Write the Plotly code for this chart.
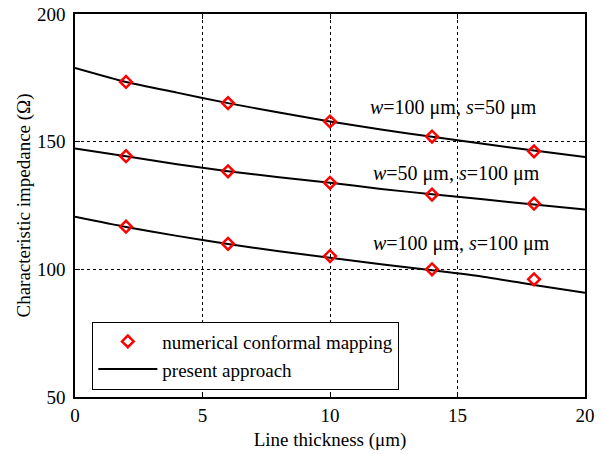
import plotly.graph_objects as go

# Data
line_x = [0, 2, 4, 6, 8, 10, 12, 14, 16, 18, 20]
line_w100_s50 = [178.9, 173.4, 169.2, 165.1, 161.4, 157.9, 154.8, 151.9, 149.2, 146.5, 144.0]
line_w50_s100 = [147.3, 144.3, 141.2, 138.4, 136.1, 133.9, 131.5, 129.4, 127.4, 125.4, 123.4]
line_w100_s100 = [120.6, 116.6, 113.1, 109.9, 107.1, 104.5, 102.0, 99.6, 97.1, 93.9, 90.8]

pts_x = [2, 6, 10, 14, 18]
pts_w100_s50 = [173.4, 165.1, 157.9, 152.0, 146.2]
pts_w50_s100 = [144.3, 138.4, 133.9, 129.3, 125.7]
pts_w100_s100 = [116.7, 110.0, 105.2, 100.0, 96.1]

labels = ["<i>w</i>=100 μm, <i>s</i>=50 μm", "<i>w</i>=50 μm, <i>s</i>=100 μm", "<i>w</i>=100 μm, <i>s</i>=100 μm"]
label_x = [14.84, 14.96, 15.15]
label_y = [163.3, 137.5, 110.0]

FONT = "Liberation Serif, Times New Roman, serif"
FS = 19

fig = go.Figure()
lines = [line_w100_s50, line_w50_s100, line_w100_s100]
pts = [pts_w100_s50, pts_w50_s100, pts_w100_s100]

for i, ly in enumerate(lines):
    fig.add_trace(go.Scatter(x=line_x, y=ly, mode="lines", line=dict(color="black", width=2, shape="spline", smoothing=0.6),
                             name="present approach", showlegend=(i == 0), legendrank=2))
for i, py in enumerate(pts):
    fig.add_trace(go.Scatter(x=pts_x, y=py, mode="markers",
                             marker=dict(symbol="diamond-open", size=9, color="red", line=dict(color="red", width=2.5)),
                             name="numerical conformal mapping", showlegend=(i == 0), legendrank=1))

for t, x, y in zip(labels, label_x, label_y):
    fig.add_annotation(x=x, y=y, text=t, showarrow=False, font=dict(family=FONT, size=20, color="black"))

axis_common = dict(showgrid=True, gridcolor="black", griddash="dot", gridwidth=1,
                   showline=True, linecolor="black", linewidth=1.5, mirror="ticks",
                   ticks="inside", ticklen=5, tickcolor="black", zeroline=False, automargin=False,
                   ticklabeloverflow="allow",
                   tickfont=dict(family=FONT, size=FS, color="black"))

fig.update_xaxes(range=[0, 20], dtick=5, title=dict(text="Line thickness (μm)", font=dict(family=FONT, size=FS, color="black"), standoff=8), **axis_common)
fig.update_yaxes(range=[50, 200], dtick=50, ticklabelstandoff=4,
                 title=dict(text="Characteristic impedance (Ω)", font=dict(family=FONT, size=FS, color="black"), standoff=1), **axis_common)

fig.update_layout(
    width=603, height=454,
    margin=dict(l=75, r=18, t=14, b=57),
    plot_bgcolor="white", paper_bgcolor="white",
    font=dict(family=FONT, size=FS, color="black"),
    legend=dict(x=0.034, y=0.197, xanchor="left", yanchor="top", bgcolor="white",
                bordercolor="black", borderwidth=1, font=dict(family=FONT, size=FS, color="black"),
                tracegroupgap=0, itemwidth=59),
)

# remove the page's default body margin so the figure sits at the window origin
fig.write_html("out.html", config={"displayModeBar": False},
               post_script="document.body.style.margin='0px';")
